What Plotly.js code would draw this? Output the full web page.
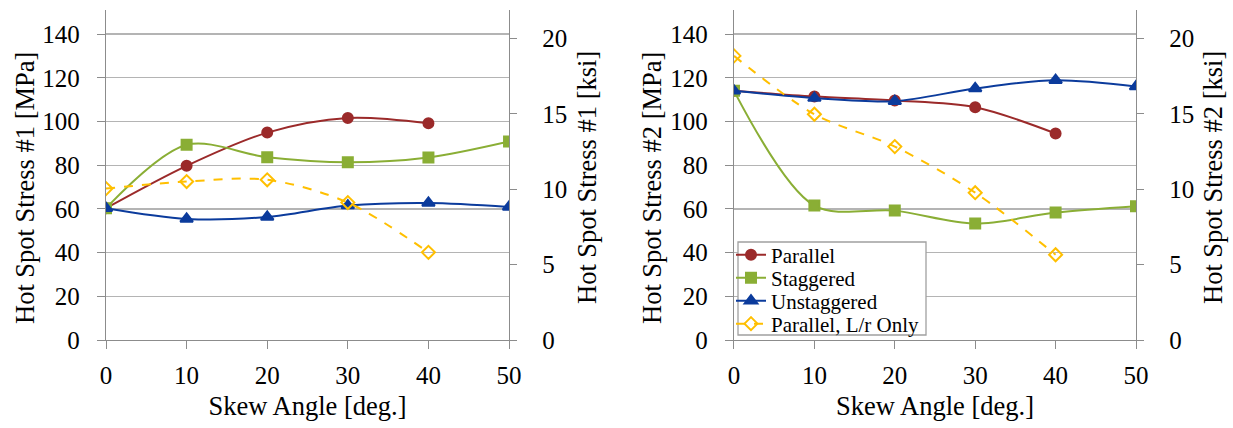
<!DOCTYPE html>
<html>
<head>
<meta charset="utf-8">
<script src="https://cdn.plot.ly/plotly-3.0.1.min.js"></script>
<style>
  html, body { margin: 0; padding: 0; background: #fff; }
  #chart { width: 1233px; height: 428px; }
</style>
</head>
<body>
<div id="chart"></div>
<script>
// Skew angles shared by every series
const skewAngles = [0, 10, 20, 30, 40, 50];

// Hot spot stress #1 [MPa]
const s1Parallel    = [60.3, 79.7, 94.9, 101.6, 99.2];
const s1Staggered   = [60.3, 89.3, 83.6, 81.3, 83.5, 90.8];
const s1Unstaggered = [60.3, 55.4, 56.3, 61.5, 62.7, 60.9];
const s1LrOnly      = [69.3, 72.5, 73.3, 62.9, 40.1];

// Hot spot stress #2 [MPa]
const s2Parallel    = [114.0, 111.4, 109.6, 106.5, 94.5];
const s2Staggered   = [114.0, 61.5, 59.2, 53.3, 58.3, 61.2];
const s2Unstaggered = [114.0, 110.7, 109.3, 115.1, 118.9, 116.0];
const s2LrOnly      = [130.0, 103.3, 88.5, 67.4, 39.0];

const seriesNames = ['Parallel', 'Staggered', 'Unstaggered', 'Parallel, L/r Only'];
const xTickVals = [0, 10, 20, 30, 40, 50];
const mpaTickVals = [0, 20, 40, 60, 80, 100, 120, 140];
const ksiTickVals = [0, 5, 10, 15, 20];

const MPA_PER_KSI = 6.894757;
const MPA_MAX = 151;

const styles = [
  { color: '#9b2a2a', symbol: 'circle', size: 10, dash: 'solid' },
  { color: '#8aae35', symbol: 'square', size: 10, dash: 'solid' },
  { color: '#0b3b9c', symbol: 'triangle-up', size: 11, dash: 'solid' },
  { color: '#ffbf00', symbol: 'diamond-open', size: 10, dash: 'dash' }
];

// One single-entry legend per series so the rows can sit close together
const legendIds = ['legend', 'legend2', 'legend3', 'legend4'];

function makeTraces(groups, xa, ya, showLegend) {
  return groups.map((vals, i) => ({
    x: skewAngles.slice(0, vals.length),
    y: vals,
    name: seriesNames[i],
    xaxis: xa, yaxis: ya,
    type: 'scatter',
    mode: 'lines+markers',
    showlegend: showLegend,
    legend: legendIds[i],
    line: { color: styles[i].color, width: 2, shape: 'spline', smoothing: 0.9, dash: styles[i].dash },
    marker: { color: styles[i].color, symbol: styles[i].symbol, size: styles[i].size,
              line: { color: styles[i].color, width: 2 } },
    hoverinfo: 'x+y+name'
  }));
}

// Secondary ksi scale: a transparent copy of the first series in ksi keeps the axis active
function ksiCarrier(vals, xa, ya) {
  return {
    x: skewAngles.slice(0, vals.length),
    y: vals.map(v => v / MPA_PER_KSI),
    xaxis: xa, yaxis: ya, type: 'scatter', mode: 'lines',
    line: { width: 0 }, opacity: 0, showlegend: false, hoverinfo: 'skip'
  };
}

const traces = [
  ...makeTraces([s1Parallel, s1Staggered, s1Unstaggered, s1LrOnly], 'x', 'y', false),
  ksiCarrier(s1Parallel, 'x', 'y2'),
  ...makeTraces([s2Parallel, s2Staggered, s2Unstaggered, s2LrOnly], 'x2', 'y3', true),
  ksiCarrier(s2Parallel, 'x2', 'y4')
];

const FONT = '"Liberation Serif", "Times New Roman", serif';
const TICK_SIZE = 25;
const TITLE_SIZE = 26.5;
const axisGray = '#8c8c8c';
const gridGray = '#b4b4b4';

function xAxis(domain, anchor) {
  return {
    domain: domain, anchor: anchor, range: [0, 50],
    tickvals: xTickVals, ticks: 'outside', ticklen: 8, tickcolor: axisGray,
    showline: true, linecolor: axisGray, linewidth: 1.3, showgrid: false, zeroline: false,
    tickfont: { family: FONT, size: TICK_SIZE, color: '#000' }, ticklabelstandoff: 5,
    title: { text: 'Skew Angle [deg.]', font: { family: FONT, size: TITLE_SIZE, color: '#000' }, standoff: 8 }
  };
}

function mpaAxis(anchor) {
  return {
    anchor: anchor, domain: [0, 1], range: [0, MPA_MAX],
    tickvals: mpaTickVals, ticks: 'outside', ticklen: 8, tickcolor: axisGray,
    showline: true, linecolor: axisGray, linewidth: 1.3,
    showgrid: true, gridcolor: gridGray, gridwidth: 1.3, zeroline: false,
    tickfont: { family: FONT, size: TICK_SIZE, color: '#000' }, ticklabelstandoff: 12
  };
}

function ksiAxis(anchor, overlay) {
  return {
    anchor: anchor, overlaying: overlay, side: 'right', range: [0, MPA_MAX / MPA_PER_KSI],
    tickvals: ksiTickVals, ticks: 'outside', ticklen: 7, tickcolor: axisGray,
    showline: true, linecolor: axisGray, linewidth: 1.3, showgrid: false, zeroline: false,
    tickfont: { family: FONT, size: TICK_SIZE, color: '#000' }, ticklabelstandoff: 20
  };
}

// Plot-area geometry in pixels (used to place titles and legend rows)
const W = 1233, H = 428, ML = 106, MR = 97, MT = 10, MB = 88;
const PW = W - ML - MR, PH = H - MT - MB;
const px2x = p => (p - ML) / PW;
const px2y = p => (H - MB - p) / PH;

function yTitle(text, xPx, yPx) {
  return {
    text: text, xref: 'paper', yref: 'paper', x: px2x(xPx), y: px2y(yPx),
    xanchor: 'center', yanchor: 'middle', textangle: -90, showarrow: false,
    font: { family: FONT, size: TITLE_SIZE, color: '#000' }
  };
}

const legendRowsPx = [255, 278, 301, 324];
const legendLayouts = {};
legendIds.forEach((id, i) => {
  legendLayouts[id] = {
    x: px2x(731), y: px2y(legendRowsPx[i]), xanchor: 'left', yanchor: 'middle',
    bgcolor: 'rgba(0,0,0,0)', borderwidth: 0,
    font: { family: FONT, size: 21, color: '#000' }, itemwidth: 30
  };
});

const layout = Object.assign({
  width: W, height: H,
  margin: { l: ML, r: MR, t: MT, b: MB },
  paper_bgcolor: '#fff', plot_bgcolor: '#fff',
  font: { family: FONT, color: '#000' },
  xaxis: xAxis([0, 0.3913], 'y'),
  yaxis: mpaAxis('x'),
  yaxis2: ksiAxis('x', 'y'),
  xaxis2: xAxis([0.6097, 1], 'y3'),
  yaxis3: mpaAxis('x2'),
  yaxis4: ksiAxis('x2', 'y3'),
  annotations: [
    yTitle('Hot Spot Stress #1 [MPa]', 25, 188),
    yTitle('Hot Spot Stress #1 [ksi]', 587, 178),
    yTitle('Hot Spot Stress #2 [MPa]', 652, 188),
    yTitle('Hot Spot Stress #2 [ksi]', 1213, 178)
  ],
  // frame behind the legend rows
  shapes: [{
    type: 'rect', xref: 'paper', yref: 'paper', layer: 'above',
    x0: px2x(738), x1: px2x(926), y0: px2y(335), y1: px2y(242),
    fillcolor: '#fff', line: { color: '#a0a0a0', width: 1.3 }
  }],
  showlegend: true
}, legendLayouts);

Plotly.newPlot('chart', traces, layout, { displayModeBar: false, staticPlot: true });
</script>
</body>
</html>
